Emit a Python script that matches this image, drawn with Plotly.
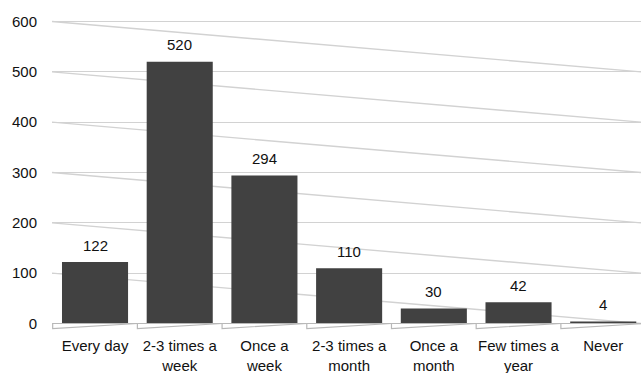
import plotly.graph_objects as go

# Survey responses: how often
categories = ["Every day", "2-3 times a<br>week", "Once a<br>week", "2-3 times a<br>month",
              "Once a<br>month", "Few times a<br>year", "Never"]
counts = [122, 520, 294, 110, 30, 42, 4]
y_ticks = [0, 100, 200, 300, 400, 500, 600]

FONT = "Liberation Sans, Arial, sans-serif"
GRID = "#d2d2d2"
BAR = "#414141"

xpos = list(range(len(categories)))

fig = go.Figure()
fig.add_trace(go.Bar(
    x=xpos, y=counts, width=0.78,
    marker=dict(color=BAR, line=dict(width=0)),
    hoverinfo="skip",
))

# value labels above each column
for xi, v in zip(xpos, counts):
    fig.add_annotation(x=xi, y=v, text=str(v), showarrow=False, yshift=17,
                       font=dict(family=FONT, size=15, color="#111111"))

shapes = []
# perspective guide lines running from each level down to the next one
for v in y_ticks[1:]:
    shapes.append(dict(type="line", xref="paper", yref="y", x0=0, x1=1, y0=v, y1=v - 100,
                       line=dict(color=GRID, width=1.4), layer="below"))
# floor wedges under each category slot
for xi in xpos:
    l, r = xi - 0.5, xi + 0.5
    shapes.append(dict(type="path", xref="x", yref="y",
                       path=f"M {l},0 L {r},0 L {l},-10 Z",
                       fillcolor="white", line=dict(color="#b8b8b8", width=1.2), layer="above"))

fig.update_layout(
    width=641, height=373,
    margin=dict(l=52, r=0, t=5, b=38),
    paper_bgcolor="white", plot_bgcolor="white",
    showlegend=False, shapes=shapes,
    font=dict(family=FONT, size=15, color="#111111"),
    xaxis=dict(range=[-0.508, 6.446], tickmode="array", tickvals=xpos, ticktext=categories,
               showgrid=False, zeroline=False, showline=False, ticks="", ticklabelstandoff=0,
               automargin=False,
               tickfont=dict(family=FONT, size=15, color="#111111")),
    yaxis=dict(range=[-22.85, 632.8], tickmode="array", tickvals=y_ticks,
               showgrid=True, gridcolor=GRID, gridwidth=1.4, zeroline=False, showline=False,
               ticks="", ticklabelstandoff=14, automargin=False,
               tickfont=dict(family=FONT, size=15, color="#111111")),
)

fig.write_html("out.html")
